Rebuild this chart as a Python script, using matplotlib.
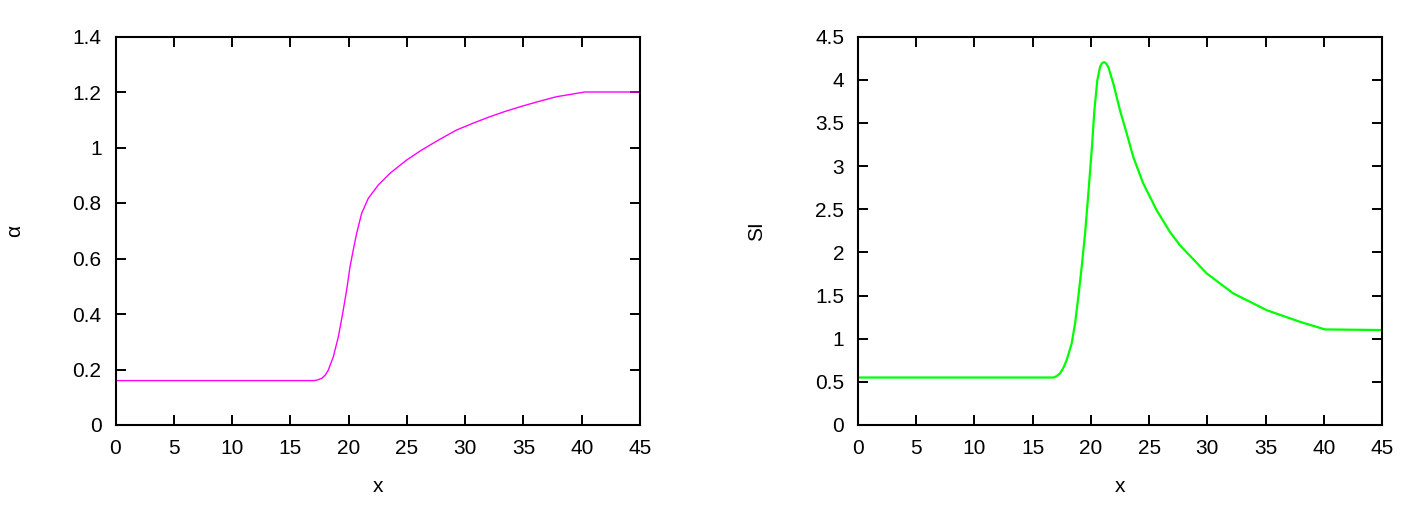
import matplotlib
matplotlib.use("Agg")
import matplotlib.pyplot as plt

plt.rcParams['font.family'] = ['Liberation Sans', 'DejaVu Sans']

# Left panel: alpha vs x
alpha_x = [0, 17.0, 17.3, 17.69, 18.0, 18.26, 18.69, 19.12, 19.49, 19.83, 20.12,
           20.40, 20.69, 21.12, 21.69, 22.55, 23.55, 24.98, 26.27, 27.8, 29.26,
           30.7, 32.12, 33.5, 34.97, 36.4, 37.83, 39.0, 39.55, 40.0, 40.26, 45]
alpha_y = [0.16, 0.16, 0.162, 0.168, 0.18, 0.198, 0.246, 0.318, 0.402, 0.486, 0.570,
           0.631, 0.691, 0.763, 0.817, 0.865, 0.907, 0.955, 0.991, 1.029, 1.063,
           1.088, 1.111, 1.131, 1.150, 1.167, 1.183, 1.191, 1.195, 1.198, 1.2, 1.2]

# Right panel: SI vs x
si_x = [0, 16.78, 17.05, 17.35, 17.65, 17.92, 18.35, 18.64, 18.92, 19.21, 19.50,
        19.78, 20.07, 20.30, 20.55, 20.78, 20.95, 21.13, 21.30, 21.50, 21.93,
        22.50, 23.08, 23.64, 24.50, 25.65, 26.79, 27.65, 29.95, 32.23, 35.10,
        37.96, 40.11, 45]
si_y = [0.55, 0.55, 0.565, 0.598, 0.665, 0.752, 0.945, 1.176, 1.484, 1.831, 2.218,
        2.680, 3.181, 3.644, 3.991, 4.145, 4.19, 4.203, 4.19, 4.145, 3.953,
        3.644, 3.375, 3.104, 2.796, 2.487, 2.236, 2.082, 1.755, 1.524, 1.330,
        1.195, 1.107, 1.1]

x_ticks = [0, 5, 10, 15, 20, 25, 30, 35, 40, 45]
alpha_ticks = [0, 0.2, 0.4, 0.6, 0.8, 1, 1.2, 1.4]
alpha_tick_labels = ['0', '0.2', '0.4', '0.6', '0.8', '1', '1.2', '1.4']
si_ticks = [0, 0.5, 1, 1.5, 2, 2.5, 3, 3.5, 4, 4.5]
si_tick_labels = ['0', '0.5', '1', '1.5', '2', '2.5', '3', '3.5', '4', '4.5']

fig = plt.figure(figsize=(14.17, 5.05), dpi=100)
W, H = 1417, 505
ax1 = fig.add_axes([115.5 / W, 1 - 425 / H, (640 - 115.5) / W, (425 - 36.5) / H])
ax2 = fig.add_axes([858 / W, 1 - 425 / H, (1382 - 858) / W, (425 - 36.5) / H])

fs = 15

def style(ax, yticks, ylabels, ymax, ylabel):
    ax.set_xlim(0, 45)
    ax.set_ylim(0, ymax)
    ax.set_xticks(x_ticks)
    ax.set_xticklabels([str(t) for t in x_ticks])
    ax.set_yticks(yticks)
    ax.set_yticklabels(ylabels)
    ax.tick_params(direction='in', length=7, width=1.4, top=True, right=True,
                   labelsize=fs, pad=10)
    for s in ax.spines.values():
        s.set_linewidth(1.5)
    ax.set_xlabel('x', fontsize=fs)
    ax.xaxis.set_label_coords(0.5, -0.135)
    ax.set_ylabel(ylabel, fontsize=fs)
    ax.yaxis.set_label_coords(-0.175, 0.5)

ax1.plot(alpha_x, alpha_y, color='#ff00ff', linewidth=1.0)
style(ax1, alpha_ticks, alpha_tick_labels, 1.4, 'α')

ax2.plot(si_x, si_y, color='#00ff00', linewidth=1.6)
style(ax2, si_ticks, si_tick_labels, 4.5, 'SI')

fig.savefig('out.png', dpi=100)
